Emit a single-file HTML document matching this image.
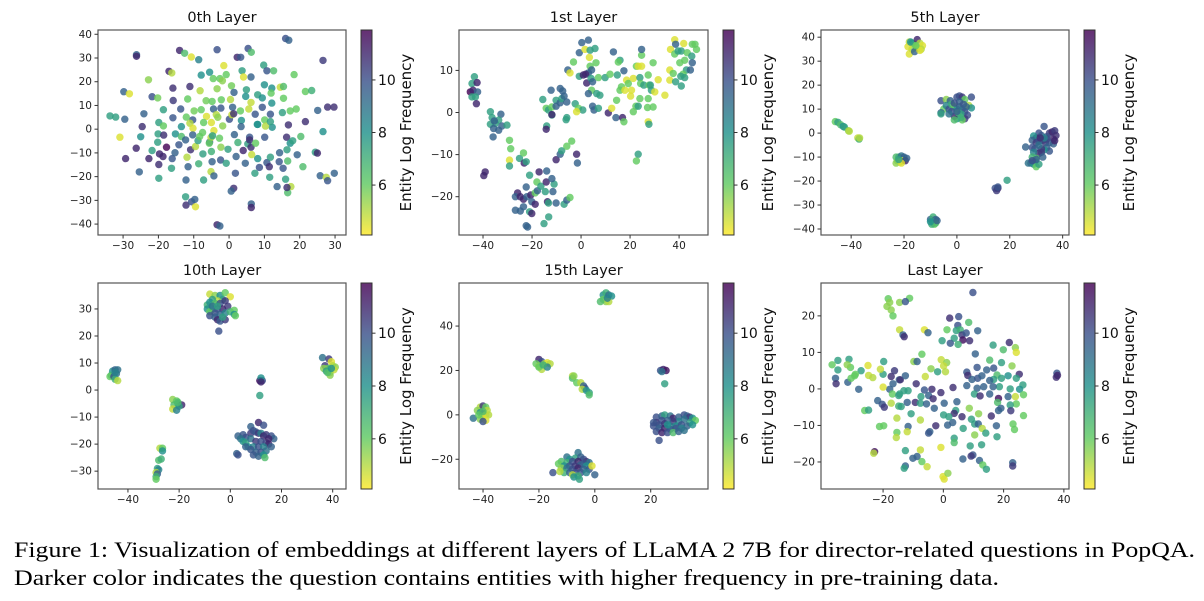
<!DOCTYPE html>
<html><head><meta charset="utf-8"><style>
html,body{margin:0;padding:0;background:#fff;}
svg{display:block;font-family:"DejaVu Sans","Liberation Sans",sans-serif;}
</style></head><body>
<svg id="fig" width="1204" height="601" viewBox="0 0 1204 601" xmlns="http://www.w3.org/2000/svg">
<defs>
<linearGradient id="vir" x1="0" y1="1" x2="0" y2="0">
<stop offset="0" stop-color="#fde725"/><stop offset="0.25" stop-color="#5ec962"/><stop offset="0.5" stop-color="#21918c"/><stop offset="0.75" stop-color="#3b528b"/><stop offset="1" stop-color="#440154"/>
</linearGradient>
</defs>
<rect width="1204" height="601" fill="#fff"/>
<text x="14" y="557" font-family="Liberation Serif, serif" font-size="22" textLength="1181" lengthAdjust="spacingAndGlyphs">Figure 1: Visualization of embeddings at different layers of LLaMA 2 7B for director-related questions in PopQA.</text>
<text x="14" y="585" font-family="Liberation Serif, serif" font-size="22" textLength="985" lengthAdjust="spacingAndGlyphs">Darker color indicates the question contains entities with higher frequency in pre-training data.</text>
</svg>
<script>
const cbMin = 4.1, cbMax = 11.9;
const cbTicks = [6, 8, 10];

const layer0Points = [[-26.2,31.4,9.5],[-26.2,30.7,11],[-14,33.2,11],[-12.6,32,6.5],[-10.7,30.4,4.5],[-8.6,29.3,8.5],[-3.4,33.5,10],[2.3,30.3,11],[3.3,30.3,9.8],[5.4,34,10],[6.3,32.4,6.5],[16,38.2,10],[16.9,37.5,9.5],[26.6,29,10.5],[-1.5,26.8,4.5],[-0.8,23,6],[-7.9,22.8,8],[-5.5,24,8],[-17,24.4,11],[-16.2,23.7,5],[-22.8,20.8,5.5],[-29.8,15.8,9.5],[-28.2,14.9,4.5],[-21.8,13.7,10],[-20.2,13.2,5.8],[-15.9,17.3,10.8],[-15.8,12.1,10.5],[-11.1,18,10.8],[-11.7,12.7,6],[-8.2,16.2,5],[-4.5,21.3,6],[-3.4,17,5.5],[-2.6,21.3,6],[-1.9,20.4,5.5],[0.7,18.3,5.8],[1.4,15.5,9.5],[3.7,24.6,7.5],[4.1,22,4.5],[6.2,22,9.5],[4.9,16.6,7.5],[4.7,13.8,8],[0.4,12.5,5],[-6.5,12,5.8],[-4.8,11.7,6],[-2.2,12.4,6],[9.8,27,7.5],[10.7,24.6,9.8],[12.6,24.6,6.5],[18.4,23,6],[10,18.7,8],[12.1,17.3,8],[14.5,17.7,4.8],[15.4,18,6.5],[8.1,14.5,7.5],[9.4,13.2,8],[11.9,15.2,6],[15.4,13,6],[12.1,11,8],[21.6,15.9,6],[23.4,16.3,7],[15.1,7,7.5],[17.3,7.7,6],[19,8.5,6],[9.4,9.2,9.8],[1,9.2,9.5],[6.2,11.3,4.8],[5.6,8.5,4.8],[3.2,7.7,6],[7.4,6.3,9.8],[11.7,6.3,9.8],[10.1,3.9,6],[12.2,0.8,8],[10.3,1.3,5],[8,2,8],[3.5,3.7,8],[3.4,1.1,9.5],[0.1,4.2,10],[0.8,6.1,4.8],[-2.3,8.9,9.8],[-4.4,8.5,9.5],[-3.6,6.1,5],[-3.2,5,5.5],[-6.4,5.4,4.5],[-5,2.8,4.5],[-7.2,2.8,6],[-10.3,3.9,9.8],[-9.9,7.7,5.8],[-7.9,8.2,6],[-11.1,2.5,5],[-10.2,0.4,4.5],[-4.3,-0.6,4.5],[-1.8,1.4,5.5],[-13.7,8.5,9.8],[-18.6,8.2,7.5],[-24.1,6.5,9.5],[-29.5,4.2,9.5],[-33.7,5.6,7.5],[-32.1,5.1,7.5],[-24.6,1.1,10.8],[-19.9,2.8,7.5],[-18.6,1.4,6],[-15.9,4.8,9.8],[-13.5,1.1,8],[-12.1,5.1,6],[-30.9,-3.4,4.5],[-25,-3.2,8],[-26.3,-8,11],[-29.3,-12.4,11],[-25.4,-18,9.5],[-22.7,-12.4,11],[-21.8,-9,7.5],[-20.2,-5.5,7.5],[-20.1,-2,7.5],[-18.5,-2.5,10.8],[-19.7,-10.4,11],[-18.7,-11.5,11],[-17.7,-7.6,11.8],[-19.9,-14.9,10.8],[-19.9,-20.7,7.5],[-16.1,-12.4,9.8],[-16.3,-16.5,7.5],[-15.3,-9.9,9.5],[-15.2,-2,8],[-14.2,-6.6,9.8],[-13.5,-3.1,6.5],[-12.3,-4.5,9.5],[-11.9,-11.8,5],[-11.6,-15.8,9.5],[-12.2,-21.4,9.5],[-12.3,-28.5,7.5],[-12.2,-32,10.8],[-10.6,-30.6,10],[-9.7,-29.6,9.5],[-9.5,-32.7,4.5],[-10.9,-8.7,10.8],[-10.3,-2.4,9.5],[-9.5,-7.3,5],[-8.8,-4.8,7.5],[-8.3,-3.1,6],[-7.5,-1.4,6],[-7.4,-10.4,7.5],[-8.6,-14.6,7],[-7.2,-21.4,7.5],[-5.5,-5.5,9.5],[-5.1,-3.5,5],[-4.7,-2.8,7.5],[-2.7,-3.8,6],[-5.6,-5.9,6],[-5,-9.4,7],[-4.8,-13.7,9.5],[-5.1,-17.9,5],[-4.3,-19.7,9.5],[-2.3,-7.6,5.5],[-2.4,-13,9.8],[-0.8,-14.4,7.5],[-0.3,-8.5,7.5],[1.5,-2.3,9.5],[1.3,6.5,10.8],[2,-11.5,9.5],[2.5,-5.6,7],[1.3,-24.9,10.8],[0.6,-26.1,9.5],[1.8,-18.6,9.8],[4,-9,11],[4.6,-14.4,9.5],[5.3,-6.2,7.5],[5.8,-3.4,9.8],[5.8,-4.5,10.8],[6.2,-7.6,10.8],[6.4,-10.7,4.8],[7.5,-5.9,6],[7.3,-18.6,7.5],[8.6,-16.1,10],[8.1,-12.4,8],[6.3,-31.5,9.5],[6.3,-33,11],[8.1,2,8],[10.1,-3.4,9.8],[10.7,-14.1,9.8],[11.4,-15.8,10.8],[11.5,-20.3,7.5],[11.7,-11.8,7.5],[13.6,-24.2,9.5],[14.2,-13.7,9.8],[14.3,-9.9,9.5],[15.3,-16.5,9.8],[16,-21.1,7.5],[16.3,-3.4,10.8],[17.3,-5.9,8],[18,-4.9,7.5],[16.4,-8.7,7.5],[16.6,-13.4,6.5],[16.8,1.8,10.8],[17.5,-24.2,5],[16.6,-26.8,6.5],[16.4,-24.6,10.8],[19.3,-10.8,9.5],[20.3,-3.1,6.5],[20.9,-15.8,6.5],[21.6,3.2,10.8],[24.4,-9.7,7.5],[25,-10.1,11],[26.6,-1,8],[25.1,7.9,9.5],[27.9,9.3,10.8],[29.7,9.3,10.8],[25.8,-19.6,9.5],[27.5,-20.3,5],[27.9,-21.7,9.8],[29.8,-18.6,9.5],[11.7,3.2,7.5],[-3.4,-40.3,11],[-2.6,-40.8,9.5]];

const layer1Points = [[-43.5,8.5,7.5],[-44.5,6.9,7.5],[-45.2,4.9,11.8],[-44.1,5.3,11],[-42.4,7.1,11],[-42.2,4.9,9.5],[-44.5,3.7,7.5],[-43.1,3.7,7.5],[-42.7,2.1,11],[-37,0.2,7.5],[-36.3,-1.2,7.5],[-32.7,-0.4,9.5],[-33.6,-1.8,7.5],[-35,-2.6,7.5],[-37,-2.8,7.5],[-35.7,-3.8,9.5],[-33.6,-4.2,9.5],[-32.3,-3.2,9.5],[-30.2,-3,7.5],[-35.9,-5.8,9.5],[-35.4,-2,9.5],[-39.1,-14.1,11],[-39.7,-15,11],[-29.2,-6.6,6],[-28.7,-8.6,6],[-29.2,-11.3,4.5],[-29.2,-12.7,7.5],[-25.1,-10.9,7.5],[-23.5,-9.6,6],[-23.2,-12,11],[-22.4,-11.7,7.5],[-21,-14.9,7.5],[-22.4,-17.7,9.5],[-25.9,-19.1,11],[-26.8,-20,9.5],[-24.8,-20,11],[-23.5,-20.6,11],[-22.1,-20,9.5],[-20.5,-19.6,11],[-18.7,-19.1,6],[-17.8,-18.6,9.5],[-18,-16.5,6],[-16.4,-17.5,7.5],[-17.1,-14.1,11],[-14.2,-16.5,11],[-14.6,-18.8,7.5],[-13.7,-21.2,11],[-11.5,-18.8,9.5],[-11,-17,7.5],[-11.9,-15.7,9.5],[-14,-13.9,9.5],[-20.1,-21.2,9.5],[-18.7,-21.8,11],[-21,-23.6,7.5],[-20.1,-24,11],[-22.4,-26.9,9.5],[-21.8,-27.2,9.5],[-24.8,-23.4,9.5],[-23.5,-22.4,9.5],[-26.8,-23.2,9.5],[-15.1,-26.4,7.5],[-13.2,-24.8,7.5],[-13.3,-21.5,7.5],[-10.2,-21.5,9.5],[-6.9,-21.8,7.5],[-5.8,-20.8,9.5],[-4.5,-20.2,6],[-10.2,-11.2,11],[-8.5,-9.9,9.5],[-7.9,-9.1,7.5],[-5.8,-8,6],[-3.8,-6.8,6],[-1.8,-9.9,11],[-1.5,-12,9.5],[-15.6,3.1,7.5],[-14.2,1,6],[-13.3,0.6,7.5],[-11.9,-0.6,7.5],[-11.9,1.3,6],[-10.2,2.9,7.5],[-10.2,1.5,9.5],[-8.5,2.3,9.5],[-12.2,5.3,9.5],[-8.5,5.7,9.5],[-7.5,5.1,9.5],[-7.9,3.3,7.5],[-5.8,2.5,9.5],[-6.9,3.9,9.5],[-14,-3.2,7.5],[-14.2,-4,11],[-6.1,-1.7,7.5],[-5.8,-1.2,7.5],[-11.9,-0.5,11],[-5.4,10.1,9.5],[-4.5,9.4,4.5],[-3.1,12,6],[-2.4,2.1,7.5],[-1.1,1,6],[0.7,0.6,7.5],[-1.8,0.2,4.5],[0.3,16.6,9.5],[-0.7,14.2,9.5],[3,17.2,9.5],[1.6,15,4.5],[3.7,14.8,7.5],[5.7,15.2,7.5],[3.4,13.1,4.5],[3.7,11,6],[6.1,11.8,6],[3,9.4,9.5],[-0.7,8.6,7.5],[0.9,8.9,11],[1.9,9.1,11],[2.3,7,11],[4.3,10.1,9.5],[4.1,8.1,7.5],[4.7,7.3,9.5],[4.3,5.3,6],[3,4.5,9.5],[6.4,4.5,7.5],[7.7,4.1,7.5],[4.7,1.5,9.5],[5.3,0.6,9.5],[7.1,1,7.5],[7.1,8.3,6],[9.8,8.3,7.5],[11.8,9.1,6],[14.8,8.9,7.5],[17.5,9.9,9.5],[15.9,12.4,7.5],[15.2,12,6],[13.2,14.4,9.5],[11.1,-0.1,11],[12.5,1,4.5],[14.5,2.9,6],[14.2,-1.2,9.5],[16.9,-1.2,11],[17.5,-2.2,6],[15.9,5.3,6],[16.5,6.1,6],[18.6,7.7,4.5],[17.9,5.3,4.5],[19.3,6.9,6],[20.6,5.3,4.5],[20.2,3.9,4.5],[21.3,8.1,4.5],[22.6,11,6],[23.3,11,4.5],[24,8.3,7.5],[24.3,6.9,6],[24.7,13.6,6],[24.7,15,9.5],[21.3,0.2,6],[22.4,1.5,6],[23.3,1.5,7.5],[24,3.3,6],[25.6,6.5,7.5],[24.7,11,4.5],[27.4,8.9,6],[27.8,6.5,6],[28.3,6.5,7.5],[28.7,5.3,7.5],[29.4,11.8,6],[30.1,4.9,4.5],[27.4,3.3,6],[27.1,1.2,6],[29.4,1.3,6],[31.5,7.8,4.5],[34.2,4.1,4.5],[27.4,-2.2,4.5],[27.7,-2.8,7.5],[23.3,-9.9,7.5],[22.6,-11.5,6],[38.2,17.3,4.5],[38.6,16.2,9.5],[36.5,15,4.5],[38.2,13.9,6],[39.6,14.6,7.5],[40.9,14.6,7.5],[41.9,16.4,4.5],[43.3,14.2,6],[45.4,16.2,6],[46.5,16.2,6],[47.1,15,6],[45.2,13.4,7.5],[45.4,11.8,9.5],[40.3,11.8,6],[42.3,12.4,6],[43,10.1,7.5],[44.6,10.1,9.5],[41.6,9.1,6],[40.7,8.6,7.5],[42.3,8.3,7.5],[36.2,10.1,4.5],[37.6,9.3,6],[36.2,7.7,4.5],[38.6,7.3,7.5],[40.9,6.3,7.5]];

const layer5Points = [[-18,38,5],[-17,37.5,7.5],[-16,37,5.5],[-15,39,11],[-14,37.5,5],[-13,36.5,4.5],[-13.5,35,5],[-15,35.5,4.8],[-17,35,5.5],[-18.5,36,4.5],[-18,33,4.5],[-16,34,9.5],[-14,34.5,4.5],[-17.5,38,8],[-15.5,36.5,6],[-46,4.8,6],[-45,4.5,7.5],[-44,3.5,6.5],[-43,2.8,8],[-42.5,2.5,7.5],[-41,1,5.5],[-40.7,0.8,5],[-37.5,-2,4.8],[-37,-2.5,7],[-36.8,-2,5],[-23,-10,6.5],[-22,-10,7],[-21,-9.5,9],[-20,-10,9.5],[-22.5,-11.5,6],[-21.5,-12,5],[-20.5,-11.5,4.8],[-19.5,-11.5,11],[-23,-12.5,5.5],[-21,-12.5,4.5],[-19,-10.5,9.5],[-22,-11,7.5],[-6,13.5,10],[-4,14,5.5],[-2.5,13.5,9.5],[0,15,10],[1,15.5,10],[2,15,10.5],[3,14,6],[5.5,15,10],[4.5,11.5,5],[5.5,10.5,8],[-5,10,6],[-6,8.5,9.5],[-6,8,7.5],[-4,11.5,8.5],[-3,10,10],[-2,12,7],[-1,11,6],[0,10,8],[1,11,9.5],[2,10,9],[3,9,10],[4,7.5,10],[3,6,10.5],[2,5.5,6],[0,6,8],[-1,7,11],[-2,9,10],[0.5,8.5,6.5],[1.5,8,7.5],[-3,8,9],[1,13,9.5],[2.5,12,9.8],[-1,12.5,10],[3.5,11,9.5],[0,9,9.5],[-1,5.5,6.5],[1.5,6.5,7],[14.5,-23,10],[15.5,-23,11],[15,-24,10.5],[15.5,-22.5,9.8],[19,-19.7,7.5],[-10,-36,9.5],[-9,-35,7],[-8,-36,9.5],[-9,-37,7.5],[-8.5,-38,6],[-9.5,-38,7],[-8,-37.5,6.5],[-10,-37,8],[-7.5,-36.5,9.5],[33,2.8,9.8],[35,0,10.5],[36,0.5,11],[37,1,10.5],[37.5,-1,10.8],[36.5,-2.5,11],[34,-1.5,10],[32,-1,9.5],[31,0,10],[30,-2,11],[29,-1.2,8],[28.5,-3,9.5],[30,-4,10.5],[31,-3.5,10],[32.5,-3,9.8],[33.5,-4,10.5],[35,-4,9.8],[36.5,-4.5,9.5],[37,-3.2,11],[34,-6,9.5],[35,-7.5,9.8],[33,-7,8],[32,-6.5,10.5],[31,-5,9],[29.5,-6.5,9.5],[28.5,-6,10],[26,-5.8,9.5],[31,-8.5,11],[32,-8,10.5],[29,-8,8.5],[28.5,-10,7],[30,-10.5,6.5],[29.5,-12,7.5],[28,-12.5,9.5],[27,-12.5,9],[29,-13,8],[30,-14,6],[31,-13,7.5],[30,-11,9.5],[32.5,-10,9.5],[28.5,-11.5,10],[34,-2.5,10.2],[33,-2,8.5],[31.5,-2,10.8]];

const layer10Points = [[-8,35.5,4.8],[-6,35,5.5],[-4,35,8],[-2,36,6],[0,34.5,4.5],[-3,33.5,7.5],[-5,33,5],[-7,33.5,7.5],[-9,31.5,7],[-8,32.5,8],[-6,32,6.5],[-4,32,10],[-2,33,10.5],[-1,31,10.5],[-3,30,11],[-5,30,10],[-7,30,7.5],[-9,30,8],[-8,29,6],[-6,28.5,10],[-4,28,9.5],[-2,28.5,8.5],[0,29,7],[1.5,29.5,6],[1.5,28,8],[2,27.5,6],[-8,27.5,10],[-6,27,9.5],[-5,26,11],[-4,25.5,9.8],[-2,26,10.5],[-3,27,7.5],[-4.5,21.8,10],[-7,31,9],[-5,31,7.5],[-46,7,8],[-45,7.5,9.5],[-44,7.5,9],[-46.5,5.5,7],[-47,5,6],[-45.5,5,10],[-44.5,6,9],[-45,4,7],[-44,3.5,5],[-45,6.5,8.5],[-22.5,-3.5,5.5],[-21,-4,6],[-20.5,-5,7],[-22,-5.5,6.5],[-19,-5.5,11],[-20,-6,7.5],[-22.5,-7,4.8],[-21,-7.5,8.5],[-20.5,-4.5,6.5],[-27.5,-21.5,5],[-26.5,-21.5,6],[-26.5,-22.5,8],[-28,-26,6.5],[-27,-25.5,7],[-28.5,-29,7.5],[-28,-29.5,8.5],[-29,-30.5,5],[-28.5,-31,9.5],[-29,-32,7],[-29,-33,6],[11.5,3.5,11.5],[12.5,3.5,10],[12,4.5,8],[12,3,11],[11.5,-2,7.5],[36,12,9],[37,9,10.5],[38.5,11.5,10.5],[39.5,10.5,4.5],[40,9,5],[41,8.5,5.5],[38,8,6],[36.5,8,5.5],[37.5,7,7.5],[39,6.5,6],[40.5,7.5,4.8],[39,5.5,5.5],[38,6.5,6.5],[39.5,8,8],[11,-12,11],[8,-13.5,9.5],[13,-13,10],[3,-17,9.5],[5,-16.5,9.8],[6,-17.5,10],[4,-18,9],[5,-19,8],[6,-19.5,7.5],[8,-16,10.5],[9,-15,10],[10,-15.5,9.8],[11,-16,10.5],[12,-16,8.5],[13,-17,11],[14,-16.5,10.5],[16,-17,10],[17,-18,9.5],[8,-18,9],[10,-19,10.5],[12,-19,10],[14,-19.5,10.2],[15,-20,11],[16,-21,9.5],[7,-21,8],[9,-21,8.5],[11,-21,10],[13,-21,8.5],[8,-22,9.8],[10,-23,9.5],[12,-23,10],[14,-22.5,9],[9,-24,9.8],[11,-24.5,9.5],[13,-24,8],[13.5,-25,6.5],[2.5,-23.5,9.5],[3,-24,10],[15,-18,11],[6,-21,9.5]];

const layer15Points = [[3,54,8],[4,55,7],[5,54,9],[6,53.5,8],[3,52,6],[4,51,5.5],[2,51,6.5],[5,51,5],[4.5,52.5,8.5],[-20,25,11],[-19,24,10],[-21,23,6],[-20,22,5.5],[-18,23,5],[-17,23.5,4.5],[-16,23,5],[-19,20.5,5],[-20,21.5,6],[-17,21.5,8.5],[-18.5,22.5,7],[-8,17.5,5],[-8,16.5,6.5],[-6.5,14.5,6],[-5,14.5,5],[-4,13,9.5],[-3.5,12,10],[-4.5,11.5,5],[-3,11,8],[-2,10,7.5],[-2,9,6.5],[-7.5,17.5,5.5],[-41,3.5,5],[-40,4,10.5],[-39,3.5,6],[-38.5,2,5],[-42,2,5.5],[-41,1,8],[-40,0.5,10],[-39,0,4.5],[-38,0,5],[-40,-1,4.5],[-41,-2,5.5],[-39,-2.5,4.5],[-40,-3,10],[-43.5,-1.5,9],[-41.5,0,6],[-40,1.5,6.5],[23.5,20,10],[24.5,20.5,11],[25.5,20,11.5],[24,19.5,9],[25,14,7.5],[22,-1,10],[24,-0.5,9.5],[25,0,7.5],[27,-0.5,9],[28,-1.5,11],[30,-1,9.5],[32,0,10],[33,-0.5,9.5],[34,-1,10.5],[35,-1.5,8],[36,-2.5,6],[34,-3.5,7.5],[32,-2,9],[30,-3,8.5],[28,-3,10.5],[26,-2.5,9.5],[24,-2.5,10],[22,-3.5,10.5],[21,-3.5,9.8],[23,-4.5,10],[25,-4,10.5],[27,-5,9],[29,-5,8],[31,-4.5,10],[33,-5,9.5],[35,-4.5,8],[21,-5,10],[23,-6,9.5],[25,-6,11],[27,-6.5,9.5],[29,-6,10],[31,-6,8.5],[22,-7.5,10],[24,-8,11],[26,-8,10],[28,-8,6.5],[30,-7.5,9.5],[23,-11.5,10],[32,-7,9],[26,-4.5,8],[-6,-17,9],[-10,-19,9],[-9,-20,8],[-7,-19.5,7.5],[-5,-19,9.5],[-4,-20,10],[-3,-21,10.5],[-2,-21.5,9],[-12,-21,6.5],[-10,-21.5,7],[-8,-21,10],[-6,-21,11],[-4,-22,10],[-13,-22,6],[-11,-23,8],[-9,-23,10],[-7,-23,10.5],[-5,-22.5,9.5],[-3,-23,8],[-12,-24,5.5],[-10,-24,9],[-8,-24.5,10],[-6,-24,11],[-4,-24.5,9.5],[-2,-24.5,9.8],[-1,-23,4.5],[-15,-26,10],[-11,-26,7],[-9,-26,9.5],[-7,-26,10],[-5,-26,9.8],[-3,-26,8.5],[-8,-27,5],[-6,-27.5,7],[-7.5,-28,8],[-5.5,-29,7.5],[0,-27,9.5],[-12.5,-25.5,5]];

const lastLayerPoints = [[9.8,26.4,10],[-18.3,24.7,6],[-17.8,23.7,5.5],[-14.5,23.7,5.5],[-11.2,24.8,6],[-12.6,23.9,9.8],[-18.7,22.6,5.5],[-17.3,21.6,5.5],[-16.7,20,6],[-14.5,16.2,4.8],[-13.4,14.8,9.5],[-13,14.3,10.8],[-6.3,16.2,4.5],[-5.1,15.4,9.5],[2.1,19.4,10.8],[5.1,19.8,10],[8.4,18.2,6.5],[4.8,17.4,10],[1.2,16.2,6],[4.3,16,7.5],[5.6,16.2,7],[6.2,14.8,10.5],[7.6,15.3,9.8],[11.4,15.9,9.5],[6.5,13.4,11.5],[8.7,13.2,10.8],[3.6,13.9,7.5],[-0.4,13.2,7.5],[2.3,12.5,9.8],[4.9,12.2,7],[16.5,12,7.5],[21.9,12.7,10.8],[19.9,10.7,6.5],[23.9,11.3,5.5],[24.2,10,4.5],[10.6,9.6,9.5],[-7.1,9.5,6],[-9.8,7.5,5.5],[-8.7,7.5,9.5],[-0.7,8,4.8],[1.1,7.2,5.5],[0.1,6.3,4.8],[0.7,4.7,5],[-1.9,4.7,7.5],[-4.1,5.5,5.5],[-6,3.4,4.8],[15.4,7.9,6.5],[19.3,7.2,7.5],[22.8,6.3,5.5],[11.2,5.9,9.8],[7.8,4.6,9.8],[8.1,3.7,10.8],[9.5,2.6,9.5],[11.4,2.9,9.8],[12.8,3.6,9.5],[14.4,5.2,9.5],[16.7,5.7,9.8],[17.8,3.8,6.5],[16.7,2.6,7.5],[15.4,2.3,9.5],[19.3,2.9,7.5],[21.5,3.6,8],[25.2,4,10.8],[24.2,2.9,7.5],[26.4,1.1,7.5],[25.3,-0.1,8],[22.2,0,7.5],[18.6,0.6,7.5],[16.5,0.6,9.5],[13.4,0.6,9.5],[11.2,0.2,9.5],[7.8,0.9,9.5],[3.2,0.4,10.8],[-3.8,-0.1,10.8],[-6.3,-0.3,9.8],[-9,1.4,10.8],[-13.1,-0.5,7.5],[-17.8,-0.1,9.5],[-20,0.5,4.5],[-16.7,1.4,9.5],[-14.6,2.5,9.5],[-14.3,2.5,10.8],[-12.6,3.6,9.5],[-17.3,3.4,10.8],[-20,4,7.5],[-20.9,5.4,4.8],[-16.2,5,10.5],[-19.8,7.5,7.5],[-25,6.4,4.5],[-27.3,5,7.5],[-24.8,3.7,4.8],[-23.4,3.1,5],[-29.2,4,6],[-30.8,5.9,6],[-31.3,8.1,7.5],[-31.9,6.6,5.5],[-35,7.8,7.5],[-36.9,6.6,6],[-35,5.2,7.5],[-35.8,2.9,9.5],[-35.6,1.4,10.8],[-31.7,1.8,9.5],[-30.6,2.9,6],[-29.4,3.6,6],[-28.1,-0.1,9.5],[-16.9,-1.4,6],[-14.5,-1.4,7.5],[-14.8,-1.8,7.5],[-11.7,-0.5,7.5],[-7.4,-2.1,7.5],[-4.9,-1.8,9.5],[-3.4,-2.7,10.8],[-0.8,-1,10.8],[-21.8,-3.2,9.5],[-20.3,-4.2,9.8],[-19.6,-5,10.5],[-17.3,-3.9,5],[-14.8,-4.7,7],[-14,-4.8,7.5],[-12,-3.7,9.5],[-9.3,-3.7,10.8],[-7.6,-3.9,7.5],[-5.6,-4.1,9.5],[-3,-5.3,9.5],[0.3,-3.9,9.5],[4.5,-3.5,9.5],[4.1,-5.9,7.5],[3.6,-6.7,10.8],[6.2,-7.6,10.8],[8.6,-5.3,5.5],[10.3,-1.4,7.5],[12.2,-1.9,10.8],[15.4,-1.4,9.5],[18.3,-2.6,11.5],[18,-3.7,6.5],[21.5,-2.1,9.5],[23.9,-2.1,4.8],[26.6,-1.6,6],[24.2,-4.1,6],[22.2,-4.4,7.5],[19.1,-5.3,9.5],[18.3,-5.9,9.5],[22.4,-6,10.5],[15.9,-7.4,10.8],[11.7,-6.8,5.5],[9.3,-8.3,7.5],[10.4,-9.6,7.5],[11.6,-9.6,9.5],[12.9,-10.8,5],[14.1,-12.1,7.5],[17.6,-10.1,9.5],[17.8,-13.1,7.5],[23.1,-9.6,6],[23.6,-11.1,6],[26.6,-7.3,6],[10.4,-12.6,5.5],[6.6,-10.8,7.5],[1.4,-9.9,9.5],[3.1,-9.2,9.5],[0.1,-7.1,7.5],[1.8,-7.6,7.5],[-2.5,-10.1,10.8],[-4.5,-11.7,9.5],[-4.9,-12.1,9.8],[-7.6,-8.5,5],[-10.7,-6.8,7.5],[-11.7,-10.3,9.5],[-12,-11.7,4.8],[-15.4,-11.9,6],[-15.6,-13.3,5],[-15.4,-8,5],[-21.2,-10.3,6],[-19.8,-10.1,6],[-26.1,-5.9,6],[-24.8,-5.8,7.5],[-22.8,-17.2,11.5],[-23.1,-17.6,5],[-12.6,-16.9,7.5],[-12.6,-21.1,9.5],[-13,-21.7,7.5],[-10.1,-19,9.5],[-8.7,-18.5,9.5],[-7.6,-16.7,4.8],[-7.1,-19.9,6],[-5.4,-21.3,4.8],[-0.8,-16,4.5],[-0.1,-24,4.5],[0.3,-24.7,4.5],[1.5,-23.1,5.5],[3.6,-13.5,7.5],[3.6,-14.7,6.5],[6.5,-19.2,9.5],[8.9,-15.6,7.5],[9.8,-18.1,9.8],[9.2,-18.4,10.5],[12,-19.6,9.5],[12.7,-15.3,7.5],[13.1,-20.8,6],[14.3,-22,7.5],[23,-20.2,9.5],[23,-21.1,10.5],[37.5,3.2,10.8],[37.7,4.3,9.8],[37.9,3.7,11]];

const panelTitles = ["0th Layer","1st Layer","5th Layer","10th Layer","15th Layer","Last Layer"];
const panelData = [layer0Points, layer1Points, layer5Points, layer10Points, layer15Points, lastLayerPoints];
const xTicksList = [[-30,-20,-10,0,10,20,30],[-40,-20,0,20,40],[-40,-20,0,20,40],[-40,-20,0,20,40],[-40,-20,0,20],[-20,0,20,40]];
const yTicksList = [[-40,-30,-20,-10,0,10,20,30,40],[-20,-10,0,10],[-40,-30,-20,-10,0,10,20,30,40],[-30,-20,-10,0,10,20,30],[-20,0,20,40],[-20,-10,0,10,20]];
const xDomains = [[-37.1,33.1],[-49.8,51.8],[-51.4,42.4],[-51.7,45.2],[-48.6,40.5],[-40.6,41.7]];
const yDomains = [[-44.6,41.8],[-29.1,19.6],[-42.5,43],[-36.6,39.6],[-33.4,59.4],[-27.4,29]];

const boxes = [[98,346,30,235],[459,708,30,235],[821,1069,30,235],[98,346,283,489],[459,708,283,489],[821,1069,283,489]];
const NS = "http://www.w3.org/2000/svg";
const svg = document.getElementById('fig');
function mk(tag, attrs, parent){const e=document.createElementNS(NS,tag);for(const k in attrs)e.setAttribute(k,attrs[k]);(parent||svg).appendChild(e);return e;}
const vir=[[0,[68,1,84]],[0.25,[59,82,139]],[0.5,[33,145,140]],[0.75,[94,201,98]],[1,[253,231,37]]];
function viridis(t){t=Math.max(0,Math.min(1,t));for(let i=0;i<4;i++){const a=vir[i],b=vir[i+1];if(t<=b[0]){const f=(t-a[0])/(b[0]-a[0]);const c=a[1].map((v,j)=>Math.round(v+(b[1][j]-v)*f));return `rgb(${c[0]},${c[1]},${c[2]})`;}}return 'rgb(253,231,37)';}
function colorOf(v){return viridis(1-(v-cbMin)/(cbMax-cbMin));}

panelData.forEach((pts,i)=>{
  const [L,R,T,B]=boxes[i];
  const xd=xDomains[i], yd=yDomains[i];
  const sx=v=>L+(v-xd[0])/(xd[1]-xd[0])*(R-L);
  const sy=v=>B-(v-yd[0])/(yd[1]-yd[0])*(B-T);
  const g=mk('g',{});
  
  
  const t=mk('text',{x:(L+R)/2,y:T-8,'text-anchor':'middle','font-size':14.5,fill:'#111'},g);
  t.textContent=panelTitles[i];
  
  
  const pg=mk('g',{},g);
  
  
  pts.forEach(p=>{
    const c=mk('circle',{cx:sx(p[0]).toFixed(1),cy:sy(p[1]).toFixed(1),r:3.7,fill:colorOf(p[2]),'fill-opacity':0.82},pg);
    
    
  });
  const fr=mk('rect',{x:L,y:T,width:R-L,height:B-T,fill:'none',stroke:'#555',"stroke-width":1.2},g);
  
  
  xTicksList[i].forEach(v=>{
    const x=sx(v);
    mk('line',{x1:x,x2:x,y1:B,y2:B+3.5,stroke:'#333'},g);
    const tl=mk('text',{x:x,y:B+14,'text-anchor':'middle','font-size':10.5,fill:'#222'},g);
    tl.textContent=(v<0?'\u2212'+(-v):String(v));
    
    
  });
  yTicksList[i].forEach(v=>{
    const y=sy(v);
    mk('line',{x1:L-3.5,x2:L,y1:y,y2:y,stroke:'#333'},g);
    const tl=mk('text',{x:L-6,y:y+3.5,'text-anchor':'end','font-size':10.5,fill:'#222'},g);
    tl.textContent=(v<0?'\u2212'+(-v):String(v));
    
    
  });
  const cx0=R+15, cw=11;
  const cb=mk('rect',{x:cx0,y:T,width:cw,height:B-T,fill:'url(#vir)','fill-opacity':0.82,stroke:'#333','stroke-width':1},g);
  
  
  const cs=v=>B-(v-cbMin)/(cbMax-cbMin)*(B-T);
  cbTicks.forEach(v=>{
    const y=cs(v);
    mk('line',{x1:cx0+cw,x2:cx0+cw+3.5,y1:y,y2:y,stroke:'#333'},g);
    const tl=mk('text',{x:cx0+cw+6,y:y+5,'font-size':14,fill:'#111'},g);
    tl.textContent=String(v);
    
    
  });
  const lx=cx0+cw+39, ly=(T+B)/2;
  const lab=mk('text',{x:lx,y:ly,'text-anchor':'middle','font-size':15,fill:'#111',transform:`rotate(-90 ${lx} ${ly})`},g);
  lab.textContent='Entity Log Frequency';
  
  
});
</script>
</body></html>
